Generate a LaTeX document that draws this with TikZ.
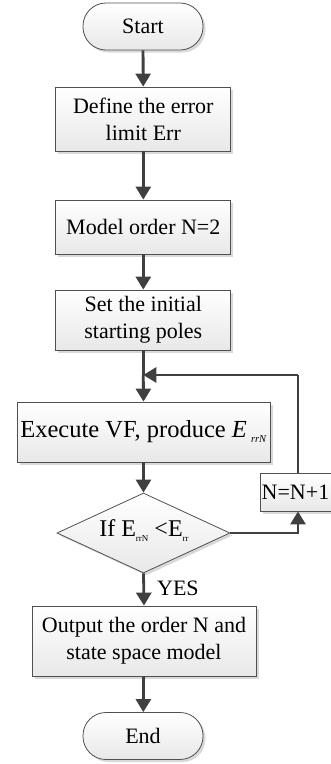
\documentclass[tikz,border=0pt]{standalone}
\usepackage{fontspec}
\setmainfont{Liberation Serif}
\usetikzlibrary{shapes.geometric,arrows.meta,shadows}
\definecolor{linec}{HTML}{404040}
\definecolor{boxline}{HTML}{505050}
\newcommand{\subtxt}[2]{\raisebox{-5pt}{\fontsize{#1}{#1}\selectfont #2}}
\tikzset{
  base/.style={draw=boxline, line width=0.8pt, top color=white, bottom color=black!9,
    inner sep=0pt, align=center, font=\fontsize{22}{27}\selectfont,
    drop shadow={shadow xshift=2.5pt, shadow yshift=-2.5pt, fill=black!15, opacity=1}},
  procbox/.style={base, rectangle},
  termbox/.style={base, rectangle, rounded corners=23pt, minimum width=120pt, minimum height=47pt},
  decbox/.style={base, diamond, minimum width=173pt, minimum height=80pt},
  arr/.style={draw=linec, line width=2.8pt, -{Triangle[length=13pt,width=15pt]}},
  lin/.style={draw=linec, line width=2.8pt},
  lbl/.style={font=\fontsize{22}{27}\selectfont, inner sep=0pt}
}
\begin{document}
\begin{tikzpicture}[x=1pt,y=-1pt]
\useasboundingbox (0,0) rectangle (331,764);
\node[termbox] (start) at (143,26.5) {Start};
\node[procbox, minimum width=175pt, minimum height=64pt] (define) at (143.3,119) {Define the error\\limit Err};
\node[procbox, minimum width=175pt, minimum height=54pt] (model) at (143.3,227) {Model order N=2};
\node[procbox, minimum width=175pt, minimum height=60pt] (set) at (143.3,320) {Set the initial\\starting poles};
\node[procbox, minimum width=253pt, minimum height=60pt, font=\fontsize{24.5}{28}\selectfont] (exec) at (143.5,432) {Execute VF, produce \textit{E}\,\subtxt{10.5}{\textit{rrN}}};
\node[decbox] (dec) at (143.5,533) {};
\node[lbl, font=\fontsize{24}{28}\selectfont] (dectext) at (144,531) {If E\subtxt{9}{rrN} <E\subtxt{9}{rr}};
\node[procbox, minimum width=224pt, minimum height=70pt] (out) at (144,641) {Output the order N and\\state space model};
\node[termbox] (end) at (143,736) {End};
\node[procbox, minimum width=71pt, minimum height=38pt] (inc) at (295.5,492) {N=N+1};
\coordinate (junc) at (143.3,375);
\coordinate (rcorner) at (298,375);

\draw[arr] (start) -- (define);
\draw[arr] (define) -- (model);
\draw[arr] (model) -- (set);
\draw[lin] (set.south) -- (junc);
\draw[arr] (junc) -- (exec.north);
\draw[arr] (exec) -- (dec.north);
\draw[arr] (dec.south) -- node[lbl, right=12pt, pos=0.45] (yes) {YES} (out.north);
\draw[arr] (out) -- (end);
\draw[arr] (dec.east) -| (inc.south -| rcorner);
\draw[lin] (inc.north -| rcorner) -- (rcorner);
\draw[arr] (rcorner) -- (junc);
\end{tikzpicture}
\end{document}
